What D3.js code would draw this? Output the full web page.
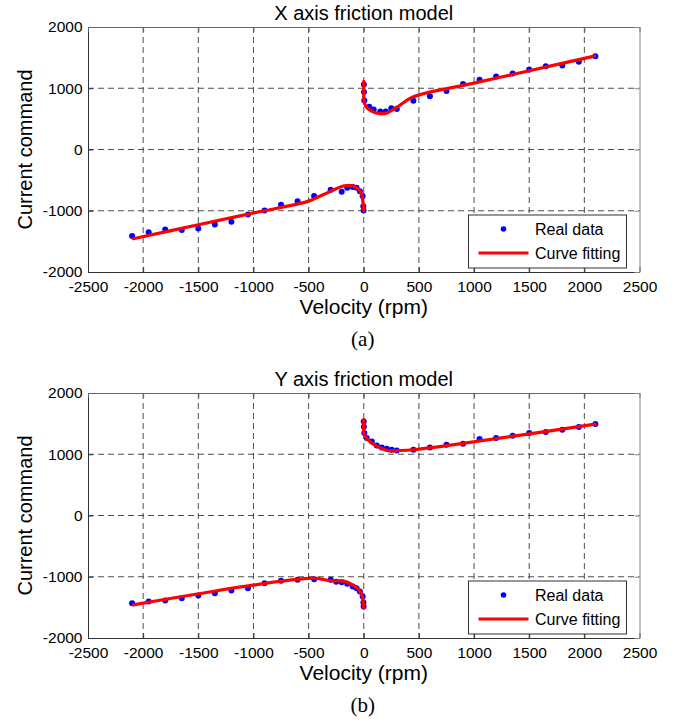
<!DOCTYPE html>
<html>
<head>
<meta charset="utf-8">
<script src="https://cdn.jsdelivr.net/npm/d3@7"></script>
<style>
  html, body { margin: 0; padding: 0; background: #fff; }
  svg { display: block; }
  text { font-family: "Liberation Sans", Arial, Helvetica, sans-serif; fill: #000; }
</style>
</head>
<body>
<svg id="chart" width="685" height="724"></svg>
<script>
// Axis ticks shared by both panels
const xTickValues = [-2500, -2000, -1500, -1000, -500, 0, 500, 1000, 1500, 2000, 2500];
const yTickValues = [-2000, -1000, 0, 1000, 2000];

// Panel (a): X axis — measured points [velocity rpm, current command]
const xAxisRealNeg = [
  [-2100, -1414], [-1950, -1349], [-1800, -1305], [-1650, -1316], [-1500, -1289],
  [-1350, -1223], [-1200, -1180], [-1050, -1060], [-900, -995], [-750, -903],
  [-600, -843], [-450, -761], [-300, -658], [-200, -691], [-150, -625],
  [-100, -614], [-65, -625], [-35, -680], [-10, -761], [-4, -925], [-1, -995]
];
const xAxisRealPos = [
  [1, 1060], [2, 940], [5, 799], [50, 696], [90, 652], [150, 620], [200, 620],
  [250, 674], [300, 663], [450, 794], [600, 870], [750, 957], [900, 1071],
  [1050, 1137], [1200, 1191], [1350, 1240], [1500, 1305], [1650, 1359],
  [1800, 1370], [1950, 1431], [2100, 1522]
];
// Panel (a): fitted friction model
const xAxisFitNeg = [
  [-2090, -1457], [-1500, -1229], [-1000, -1036], [-500, -843], [-400, -763],
  [-300, -683], [-200, -603], [-150, -588], [-100, -594], [-60, -628],
  [-30, -690], [-15, -760], [-8, -850], [-3, -940], [0, -1000]
];
const xAxisFitPos = [
  [0, 1114], [0, 950], [2, 800], [10, 740], [25, 690], [50, 650], [100, 605],
  [150, 587], [200, 590], [300, 690], [450, 860], [1000, 1083], [1500, 1285],
  [2090, 1524]
];

// Panel (b): Y axis — measured points
const yAxisRealNeg = [
  [-2100, -1431], [-1950, -1405], [-1800, -1389], [-1650, -1350], [-1500, -1307],
  [-1350, -1268], [-1200, -1225], [-1050, -1187], [-900, -1105], [-750, -1067],
  [-600, -1051], [-450, -1040], [-300, -1051], [-250, -1083], [-200, -1089],
  [-150, -1116], [-100, -1160], [-65, -1187], [-35, -1242], [-10, -1323],
  [-3, -1420], [-1, -1487]
];
const yAxisRealPos = [
  [0, 1536], [1, 1450], [5, 1346], [27, 1264], [73, 1209], [118, 1144],
  [163, 1111], [209, 1090], [254, 1073], [299, 1062], [450, 1073], [600, 1111],
  [750, 1155], [900, 1172], [1050, 1248], [1200, 1264], [1350, 1302],
  [1500, 1346], [1650, 1362], [1800, 1400], [1950, 1444], [2100, 1493]
];
// Panel (b): fitted friction model
const yAxisFitNeg = [
  [-2090, -1459], [-457, -1023], [-300, -1067], [-185, -1072], [-130, -1105],
  [-95, -1140], [-60, -1180], [-34, -1242], [-18, -1295], [-10, -1350],
  [-4, -1420], [0, -1513]
];
const yAxisFitPos = [
  [0, 1564], [0, 1400], [3, 1340], [20, 1270], [60, 1200], [120, 1130],
  [224, 1057], [300, 1060], [450, 1073], [2099, 1493]
];

const panelTitles = ["X axis friction model", "Y axis friction model"];
const panelCaptions = ["(a)", "(b)"];
const legendLabels = ["Real data", "Curve fitting"];

const svg = d3.select("#chart");
const plotLeft = 88, plotRight = 639.5, plotHeight = 245;
const panelTops = [27, 393];
const plainNumber = d => String(d); // hyphen minus, no thousands separator

const panels = [
  { real: [xAxisRealNeg, xAxisRealPos], fit: [xAxisFitNeg, xAxisFitPos] },
  { real: [yAxisRealNeg, yAxisRealPos], fit: [yAxisFitNeg, yAxisFitPos] }
];

panels.forEach((p, i) => {
  const top = panelTops[i];
  const bottom = top + plotHeight;
  const x = d3.scaleLinear().domain([-2500, 2500]).range([plotLeft, plotRight]);
  const y = d3.scaleLinear().domain([-2000, 2000]).range([bottom, top]);
  const g = svg.append("g");

  // dashed grid
  g.append("g").selectAll("line").data(xTickValues.slice(1, -1)).join("line")
    .attr("x1", d => x(d)).attr("x2", d => x(d))
    .attr("y1", top).attr("y2", bottom)
    .attr("stroke", "#3a3a3a").attr("stroke-width", 0.9).attr("stroke-dasharray", "6,4");
  g.append("g").selectAll("line").data(yTickValues.slice(1, -1)).join("line")
    .attr("x1", plotLeft).attr("x2", plotRight)
    .attr("y1", d => y(d)).attr("y2", d => y(d))
    .attr("stroke", "#3a3a3a").attr("stroke-width", 0.9).attr("stroke-dasharray", "6,4");

  // axes with inward ticks
  const xAxis = d3.axisBottom(x).tickValues(xTickValues).tickFormat(plainNumber)
    .tickSizeInner(-5).tickSizeOuter(0).tickPadding(9);
  const xg = g.append("g").attr("transform", `translate(0,${bottom})`).call(xAxis);
  const yAxis = d3.axisLeft(y).tickValues(yTickValues).tickFormat(plainNumber)
    .tickSizeInner(-5).tickSizeOuter(0).tickPadding(5.5);
  const yg = g.append("g").attr("transform", `translate(${plotLeft},0)`).call(yAxis);
  [xg, yg].forEach(a => {
    a.select(".domain").attr("stroke", "#333");
    a.selectAll(".tick line").attr("stroke", "#333");
    a.selectAll(".tick text").style("font-size", "15.5px")
      .style("font-family", '"Liberation Sans", Arial, sans-serif').attr("fill", "#000");
  });
  xg.selectAll(".tick text").attr("dy", "0.71em").attr("y", 8.5);
  // top and right frame with ticks
  g.append("g").attr("transform", `translate(0,${top})`)
    .call(d3.axisTop(x).tickValues(xTickValues).tickSizeInner(-5).tickSizeOuter(0).tickFormat(""))
    .call(a => { a.select(".domain").attr("stroke", "#666"); a.selectAll(".tick line").attr("stroke", "#666"); });
  g.append("g").attr("transform", `translate(${plotRight},0)`)
    .call(d3.axisRight(y).tickValues(yTickValues).tickSizeInner(-5).tickSizeOuter(0).tickFormat(""))
    .call(a => { a.select(".domain").attr("stroke", "#888"); a.selectAll(".tick line").attr("stroke", "#888"); });

  // measured points
  const pts = p.real[0].concat(p.real[1]);
  g.append("g").selectAll("circle").data(pts).join("circle")
    .attr("cx", d => x(d[0])).attr("cy", d => y(d[1])).attr("r", 3)
    .attr("fill", "#0000ff");

  // fitted curves
  const line = d3.line().x(d => x(d[0])).y(d => y(d[1])).curve(d3.curveCatmullRom.alpha(0.5));
  p.fit.forEach(branch => {
    g.append("path").datum(branch).attr("d", line)
      .attr("fill", "none").attr("stroke", "#ff0000").attr("stroke-width", 3.2)
      .attr("stroke-linejoin", "round").attr("stroke-linecap", "round");
  });

  // title and axis labels
  g.append("text").attr("x", (plotLeft + plotRight) / 2).attr("y", top - 7)
    .attr("text-anchor", "middle").style("font-size", "20px").text(panelTitles[i]);
  g.append("text").attr("x", (plotLeft + plotRight) / 2).attr("y", bottom + 42)
    .attr("text-anchor", "middle").style("font-size", "21px").text("Velocity (rpm)");
  g.append("text").attr("transform", `translate(32,${(top + bottom) / 2}) rotate(-90)`)
    .attr("text-anchor", "middle").style("font-size", "20px").text("Current command");
  g.append("text").attr("x", (plotLeft + plotRight) / 2 - 1).attr("y", bottom + 74)
    .attr("text-anchor", "middle")
    .style("font-family", '"Liberation Serif", "Times New Roman", serif')
    .style("font-size", "21px").text(panelCaptions[i]);

  // legend
  const lx = 468.5, ly = top + 188, lw = 158, lh = 53;
  const lg = g.append("g");
  lg.append("rect").attr("x", lx).attr("y", ly).attr("width", lw).attr("height", lh)
    .attr("fill", "#fff").attr("stroke", "#333").attr("stroke-width", 1);
  lg.append("circle").attr("cx", lx + 35).attr("cy", ly + 14).attr("r", 2.8).attr("fill", "#0000ff");
  lg.append("line").attr("x1", lx + 10).attr("x2", lx + 60).attr("y1", ly + 38).attr("y2", ly + 38)
    .attr("stroke", "#ff0000").attr("stroke-width", 3.2);
  lg.append("text").attr("x", lx + 66.5).attr("y", ly + 19.5).style("font-size", "16px").text(legendLabels[0]);
  lg.append("text").attr("x", lx + 66.5).attr("y", ly + 43.5).style("font-size", "16px").text(legendLabels[1]);
});
</script>
</body>
</html>
